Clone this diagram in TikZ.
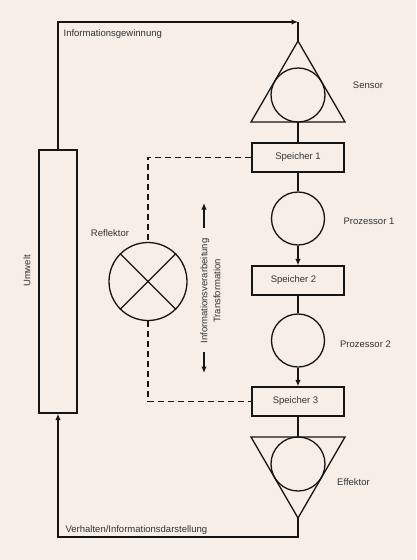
\documentclass[tikz,border=0pt]{standalone}
\usepackage{fontspec}
\setmainfont{Liberation Sans}
\usetikzlibrary{arrows.meta}
\definecolor{hgrund}{HTML}{F6EEE7}
\definecolor{strich}{HTML}{151515}

\begin{document}
\begin{tikzpicture}[x=1pt,y=-1pt,line width=1.3pt,color=strich,
    >={Latex[length=6.5pt,width=5.5pt]},
    beschr/.style={font=\fontsize{9.5}{13}\selectfont,text=black!80,inner sep=0pt},
    speicher/.style={beschr,draw,rectangle,minimum width=92pt,minimum height=29pt},
    kreis/.style={draw,circle,minimum size=#1,inner sep=0pt},
    gestrichelt/.style={dash pattern=on 6pt off 4pt}]
                \fill[hgrund] (0,0) rectangle (416,560);
                % Umwelt
                \node[draw,rectangle,minimum width=38pt,minimum height=263pt] (umwelt) at (58,281.5) {};
                \node[beschr,rotate=90] (umwelt-l) at (27,271) {Umwelt};
                % Sensor
                \node[kreis=54pt] (sensor) at (298,95) {};
                \coordinate (s-spitze) at (298,41);
                \coordinate (s-fuss) at (298,122);
                \draw (s-spitze) -- ++(-47,81) -- ++(94,0) -- cycle;
                % Speicher und Prozessoren
                \node[speicher] (sp1) at (298,157.5) {Speicher 1};
                \node[kreis=53pt] (proz1) at (298,218.5) {};
                \node[speicher] (sp2) at (298,280.5) {\hspace*{-9pt}Speicher 2};
                \node[kreis=53pt] (proz2) at (298,340.5) {};
                \node[speicher] (sp3) at (298,401.5) {\hspace*{-5pt}Speicher 3};
                % Effektor
                \node[kreis=54pt] (effektor) at (298,464) {};
                \coordinate (e-kopf) at (298,437);
                \coordinate (e-spitze) at (298,518);
                \draw (e-spitze) -- ++(-47,-81) -- ++(94,0) -- cycle;
                \draw (s-fuss) -- (sp1.north);
                \draw (sp1) -- (proz1);
                \draw[->] (proz1) -- (sp2);
                \draw (sp2) -- (proz2);
                \draw[->] (proz2) -- (sp3);
                \draw (sp3.south) -- (e-kopf);
                % Kreislauf ueber die Umwelt
                \coordinate (knick-o) at (298,22);
                \coordinate (knick-u) at (298,537);
                \draw[->] (umwelt.north) |- (knick-o);
                \draw (knick-o) -- (s-spitze);
                \draw[->] (e-spitze) -- (knick-u) -| (umwelt.south);
                % Reflektor
                \node[kreis=78pt] (reflektor) at (148,281.5) {};
                \draw (reflektor.45) -- (reflektor.225);
                \draw (reflektor.135) -- (reflektor.315);
                \draw[gestrichelt] (sp1.west) -| (reflektor.north);
                \draw[gestrichelt] (reflektor.south) |- (sp3.west);
                % Transformation
                \node[beschr,rotate=90,align=center] (transf) at (210.5,291) {Informationsverarbeitung\\Transformation};
                \coordinate (pf-o1) at (204,228);
                \coordinate (pf-o2) at (204,203);
                \coordinate (pf-u1) at (204,352);
                \coordinate (pf-u2) at (204,373);
                \draw[->] (pf-o1) -- (pf-o2);
                \draw[->] (pf-u1) -- (pf-u2);
                % Beschriftungen
                \node[beschr,anchor=base west] (gewinn-l) at (63,36.5) {Informationsgewinnung};
                \node[beschr,anchor=base] (sensor-l) at (368,88) {Sensor};
                \node[beschr,anchor=base] (reflektor-l) at (110,236) {Reflektor};
                \node[beschr,anchor=base] (proz1-l) at (369,224) {Prozessor 1};
                \node[beschr,anchor=base] (proz2-l) at (365.5,347) {Prozessor 2};
                \node[beschr,anchor=base] (effektor-l) at (353.5,485) {Effektor};
                \node[beschr,anchor=base west] (verhalten-l) at (65,532) {Verhalten/Informationsdarstellung};
            \end{tikzpicture}
\end{document}
